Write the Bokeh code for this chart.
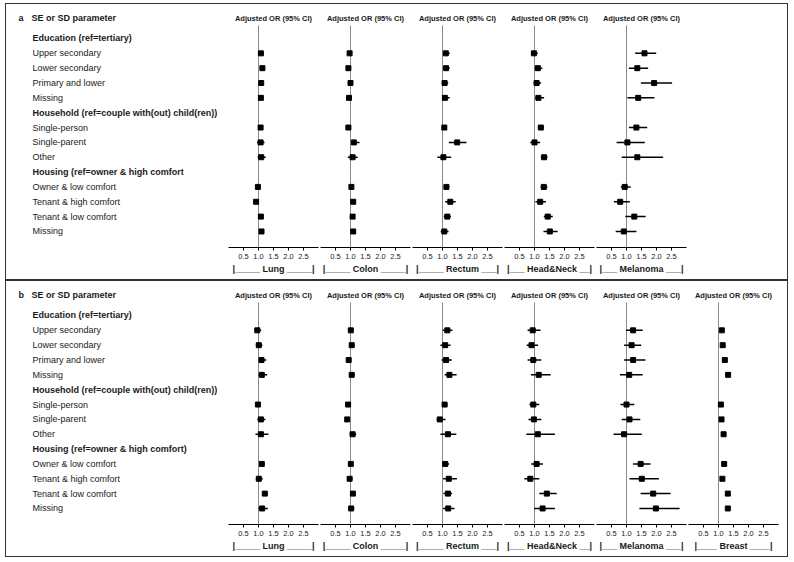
from bokeh.plotting import figure
from bokeh.layouts import row, column
from bokeh.models import Range1d, FixedTicker, Spacer, ColumnDataSource
from bokeh.core.properties import value
from bokeh.embed import file_html
from bokeh.resources import INLINE

FONT = "Liberation Sans"

# ---------------- data ----------------
row_labels_a = ["Education (ref=tertiary)", "Upper secondary", "Lower secondary", "Primary and lower", "Missing",
                "Household (ref=couple with(out) child(ren))", "Single-person", "Single-parent", "Other",
                "Housing (ref=owner & high comfort", "Owner & low comfort", "Tenant & high comfort",
                "Tenant & low comfort", "Missing"]
row_labels_b = row_labels_a[:9] + ["Housing (ref=owner & high comfort)"] + row_labels_a[10:]
header_rows = [0, 5, 9]
item_rows = [1, 2, 3, 4, 6, 7, 8, 10, 11, 12, 13]

tick_values = [0.5, 1.0, 1.5, 2.0, 2.5]
tick_labels = ["0.5", "1.0", "1.5", "2.0", "2.5"]
ref_or = 1.0
col_header = "Adjusted OR (95% CI)"

cancers_a = ["Lung", "Colon", "Rectum", "Head&Neck", "Melanoma"]
cancers_b = ["Lung", "Colon", "Rectum", "Head&Neck", "Melanoma", "Breast"]
cancer_axis_labels = {
    "Lung": "|_____ Lung _____|",
    "Colon": "|_____ Colon _____|",
    "Rectum": "|_____ Rectum ___|",
    "Head&Neck": "|___ Head&Neck __|",
    "Melanoma": "|___ Melanoma ___|",
    "Breast": "|____ Breast ____|",
}

# panel a
a_lung_or = [1.08, 1.13, 1.09, 1.08, 1.07, 1.07, 1.09, 0.98, 0.92, 1.08, 1.10]
a_lung_lo = [1.03, 1.07, 1.03, 1.02, 1.03, 0.95, 0.97, 0.95, 0.87, 1.03, 1.04]
a_lung_hi = [1.14, 1.19, 1.15, 1.14, 1.11, 1.20, 1.24, 1.01, 0.98, 1.13, 1.16]
a_colon_or = [0.97, 0.93, 1.00, 0.95, 0.93, 1.11, 1.07, 1.03, 1.09, 1.07, 1.09]
a_colon_lo = [0.93, 0.89, 0.95, 0.90, 0.89, 1.02, 0.91, 0.99, 1.03, 1.02, 1.03]
a_colon_hi = [1.01, 0.97, 1.05, 1.02, 0.97, 1.30, 1.24, 1.07, 1.15, 1.12, 1.16]
a_rectum_or = [1.11, 1.12, 1.07, 1.08, 1.06, 1.49, 1.03, 1.13, 1.26, 1.16, 1.06]
a_rectum_lo = [1.02, 1.03, 0.98, 0.99, 0.98, 1.21, 0.83, 1.04, 1.09, 1.04, 0.94]
a_rectum_hi = [1.24, 1.24, 1.19, 1.24, 1.14, 1.80, 1.29, 1.23, 1.44, 1.28, 1.20]
a_hn_or = [0.98, 1.11, 1.07, 1.13, 1.21, 1.00, 1.32, 1.31, 1.19, 1.44, 1.51]
a_hn_lo = [0.88, 1.01, 0.97, 1.02, 1.11, 0.86, 1.21, 1.20, 1.03, 1.31, 1.30]
a_hn_hi = [1.11, 1.26, 1.22, 1.32, 1.32, 1.19, 1.43, 1.43, 1.38, 1.61, 1.77]
a_mel_or = [1.60, 1.36, 1.92, 1.39, 1.33, 1.03, 1.36, 0.94, 0.79, 1.26, 0.91]
a_mel_lo = [1.29, 1.08, 1.48, 1.03, 1.08, 0.67, 0.84, 0.81, 0.58, 0.96, 0.64]
a_mel_hi = [1.99, 1.72, 2.52, 1.93, 1.69, 1.61, 2.22, 1.14, 1.11, 1.64, 1.33]

# panel b
b_lung_or = [0.96, 1.01, 1.10, 1.11, 0.98, 1.08, 1.08, 1.11, 1.01, 1.21, 1.12]
b_lung_lo = [0.87, 0.91, 1.00, 1.00, 0.93, 0.96, 0.90, 1.04, 0.91, 1.12, 1.00]
b_lung_hi = [1.09, 1.13, 1.26, 1.29, 1.03, 1.23, 1.33, 1.19, 1.14, 1.31, 1.31]
b_colon_or = [1.01, 1.04, 0.94, 1.04, 0.92, 0.89, 1.07, 1.01, 0.97, 1.08, 1.02]
b_colon_lo = [0.94, 0.97, 0.88, 0.97, 0.89, 0.86, 0.97, 0.98, 0.89, 1.02, 0.95]
b_colon_hi = [1.09, 1.13, 1.03, 1.14, 0.96, 0.93, 1.19, 1.05, 1.07, 1.16, 1.13]
b_rectum_or = [1.16, 1.09, 1.12, 1.23, 1.07, 0.91, 1.18, 1.09, 1.21, 1.18, 1.19]
b_rectum_lo = [1.01, 0.93, 0.97, 1.07, 0.98, 0.80, 0.93, 1.01, 1.02, 1.03, 1.02]
b_rectum_hi = [1.33, 1.27, 1.31, 1.47, 1.17, 1.10, 1.46, 1.22, 1.48, 1.32, 1.40]
b_hn_or = [0.94, 0.90, 0.96, 1.14, 0.96, 0.98, 1.11, 1.07, 0.86, 1.41, 1.27]
b_hn_lo = [0.77, 0.74, 0.77, 0.88, 0.83, 0.80, 0.73, 0.89, 0.66, 1.16, 0.99]
b_hn_hi = [1.20, 1.12, 1.23, 1.54, 1.16, 1.23, 1.68, 1.28, 1.16, 1.74, 1.68]
b_mel_or = [1.22, 1.17, 1.22, 1.09, 1.00, 1.10, 0.92, 1.47, 1.51, 1.89, 1.98]
b_mel_lo = [0.98, 0.92, 0.92, 0.78, 0.80, 0.84, 0.57, 1.22, 1.10, 1.47, 1.43]
b_mel_hi = [1.54, 1.49, 1.63, 1.54, 1.26, 1.46, 1.51, 1.80, 2.08, 2.47, 2.77]
b_breast_or = [1.11, 1.14, 1.21, 1.32, 1.08, 1.10, 1.17, 1.19, 1.13, 1.31, 1.31]
b_breast_lo = [1.08, 1.11, 1.18, 1.28, 1.05, 1.07, 1.12, 1.16, 1.10, 1.28, 1.27]
b_breast_hi = [1.14, 1.17, 1.24, 1.36, 1.11, 1.13, 1.22, 1.22, 1.16, 1.34, 1.35]

panel_a_data = {
    "Lung": (a_lung_or, a_lung_lo, a_lung_hi),
    "Colon": (a_colon_or, a_colon_lo, a_colon_hi),
    "Rectum": (a_rectum_or, a_rectum_lo, a_rectum_hi),
    "Head&Neck": (a_hn_or, a_hn_lo, a_hn_hi),
    "Melanoma": (a_mel_or, a_mel_lo, a_mel_hi),
}
panel_b_data = {
    "Lung": (b_lung_or, b_lung_lo, b_lung_hi),
    "Colon": (b_colon_or, b_colon_lo, b_colon_hi),
    "Rectum": (b_rectum_or, b_rectum_lo, b_rectum_hi),
    "Head&Neck": (b_hn_or, b_hn_lo, b_hn_hi),
    "Melanoma": (b_mel_or, b_mel_lo, b_mel_hi),
    "Breast": (b_breast_or, b_breast_lo, b_breast_hi),
}

# ---------------- layout constants ----------------
FIG_H = 275
BOTTOM = 32
Y_BOTTOM = 14.08
Y_TOP = -2.29
HEADER_Y = -1.35
REFLINE_TOP = -0.875
LABEL_W = 221
COL_W = 92
INNER_W = 781
TEXT_COL = "#1a1a1a"


def base_fig(width, x_range, with_axis):
    p = figure(width=width, height=FIG_H, x_range=x_range,
               y_range=Range1d(Y_BOTTOM, Y_TOP),
               output_backend="svg", toolbar_location=None,
               x_axis_location="below" if with_axis else None,
               y_axis_location=None,
               min_border_left=1 if with_axis else 0,
               min_border_right=1 if with_axis else 0,
               min_border_top=0, min_border_bottom=BOTTOM)
    p.grid.visible = False
    p.outline_line_color = None
    p.background_fill_color = "white"
    p.border_fill_color = "white"
    return p


def label_fig(letter, labels):
    p = base_fig(LABEL_W, Range1d(0, LABEL_W), False)
    hdr = ColumnDataSource(dict(x=[25] + [26] * len(header_rows),
                                y=[HEADER_Y] + header_rows,
                                t=["SE or SD parameter"] + [labels[i] for i in header_rows]))
    p.text(x="x", y="y", text="t", source=hdr, text_font=value(FONT), text_font_size="9px",
           text_font_style="bold", text_baseline="middle", text_color=TEXT_COL)
    p.text(x=[12], y=[HEADER_Y], text=[letter], text_font=value(FONT), text_font_size="9px",
           text_font_style="bold", text_baseline="middle", text_color=TEXT_COL)
    items = ColumnDataSource(dict(x=[26] * len(item_rows), y=item_rows,
                                  t=[labels[i] for i in item_rows]))
    p.text(x="x", y="y", text="t", source=items, text_font=value(FONT), text_font_size="9px",
           text_baseline="middle", text_color=TEXT_COL)
    return p


def forest_fig(cancer, vals):
    orv, lo, hi = vals
    p = base_fig(COL_W, Range1d(0, 3), True)
    p.segment(x0=[ref_or], x1=[ref_or], y0=[REFLINE_TOP], y1=[Y_BOTTOM],
              line_color="#8a8a8a", line_width=1)
    p.text(x=[1.5], y=[HEADER_Y], text=[col_header], text_font=value(FONT), text_font_size="7.5px",
           text_font_style="bold", text_align="center", text_baseline="middle", text_color=TEXT_COL)
    src = ColumnDataSource(dict(y=item_rows, orv=orv, lo=lo, hi=hi))
    p.segment(x0="lo", x1="hi", y0="y", y1="y", source=src, line_color="black", line_width=1.5)
    p.scatter(x="orv", y="y", source=src, marker="square", size=5,
              fill_color="black", line_color="black")
    ax = p.xaxis[0]
    ax.ticker = FixedTicker(ticks=tick_values)
    ax.major_label_overrides = {v: s for v, s in zip(tick_values, tick_labels)}
    ax.minor_tick_line_color = None
    ax.major_tick_in = 0
    ax.major_tick_out = 3
    ax.axis_line_color = "black"
    ax.major_tick_line_color = "black"
    ax.major_label_text_font = FONT
    ax.major_label_text_font_size = "7.5px"
    ax.major_label_text_color = TEXT_COL
    ax.major_label_standoff = 3
    ax.axis_label = cancer_axis_labels[cancer]
    ax.axis_label_text_font = FONT
    ax.axis_label_text_font_size = "9px"
    ax.axis_label_text_font_style = "bold"
    ax.axis_label_text_color = TEXT_COL
    ax.axis_label_standoff = 2
    return p


BORDER = {"border": "1px solid #333333"}

figs_a = [label_fig("a", row_labels_a)] + [forest_fig(c, panel_a_data[c]) for c in cancers_a]
rest_a = INNER_W - LABEL_W - COL_W * len(cancers_a)
panel_a = row(*figs_a, Spacer(width=rest_a, height=FIG_H), styles=BORDER)

figs_b = [label_fig("b", row_labels_b)] + [forest_fig(c, panel_b_data[c]) for c in cancers_b]
rest_b = INNER_W - LABEL_W - COL_W * len(cancers_b)
panel_b = row(*figs_b, Spacer(width=rest_b, height=FIG_H), styles=BORDER)

layout = row(Spacer(width=5, height=10),
             column(Spacer(width=10, height=3), panel_a, panel_b))

open("out.html", "w").write(file_html(layout, INLINE))
